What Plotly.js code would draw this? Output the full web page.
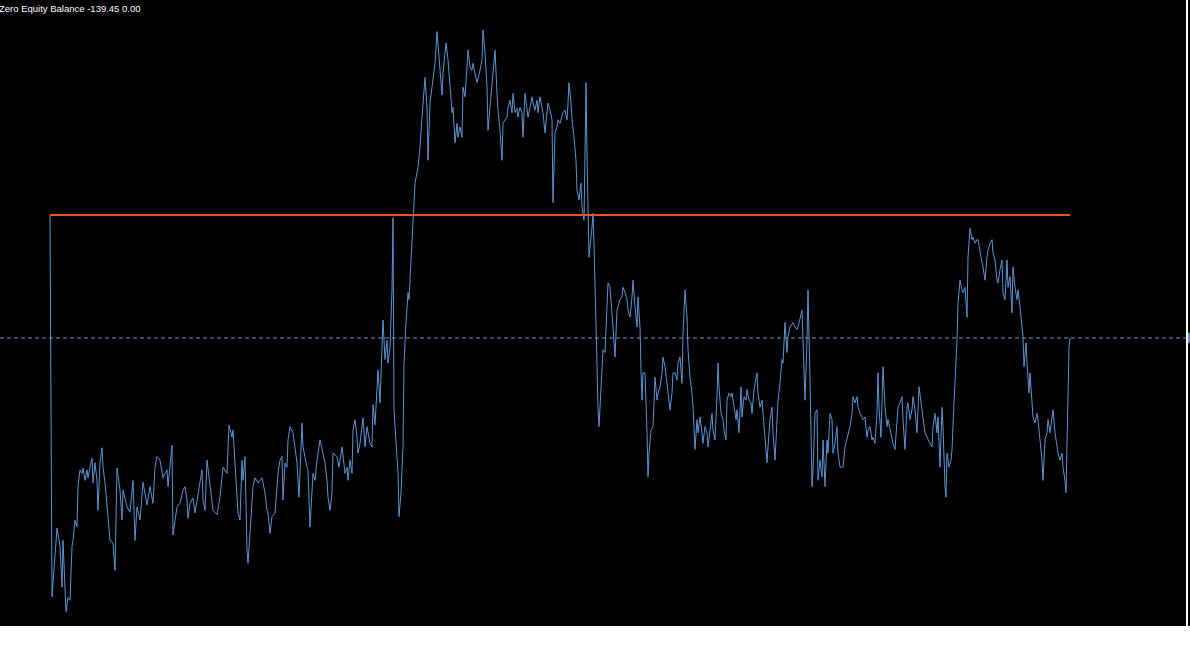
<!DOCTYPE html>
<html>
<head>
<meta charset="utf-8">
<script src="https://cdn.plot.ly/plotly-3.0.1.min.js"></script>
<style>
html,body{margin:0;padding:0;background:#ffffff;}
#chart{width:1190px;height:646px;}
</style>
</head>
<body>
<div id="chart"></div>
<script>
// Bar numbers (time index) and equity values
const bars = [
0,2,7,10,12,13,16,18,20,22,
23,25,27,28,30,32,33,35,37,38,
40,42,43,45,47,48,50,52,53,55,
58,60,63,65,67,70,72,73,77,80,
83,85,87,90,93,97,100,103,105,107,
110,113,117,118,122,123,127,130,133,135,
137,138,140,143,145,147,150,152,153,155,
157,160,163,167,170,173,177,179,182,183,
185,188,190,192,193,195,197,198,200,203,
205,208,212,215,217,218,220,222,225,228,
230,232,233,235,237,238,240,243,247,249,
252,253,257,258,260,263,265,267,270,272,
275,277,278,280,282,283,287,289,292,295,
297,298,300,302,303,305,307,308,310,313,
315,317,320,322,323,325,328,330,332,333,
335,337,338,340,342,343,344,346,348,349,
351,353,354,356,358,359,360,362,363,364,
365,368,370,372,373,375,377,378,380,382,
383,385,387,389,391,392,393,396,398,400,
402,403,405,407,408,410,412,413,415,417,
418,420,422,423,427,430,432,433,435,437,
438,440,443,445,447,448,450,452,453,455,
457,458,460,462,463,465,467,468,470,472,
473,475,477,478,480,482,483,485,487,488,
490,492,493,495,497,498,500,502,503,505,
507,508,510,512,513,515,517,518,519,521,
522,524,526,527,529,531,532,534,535,536,
537,538,539,542,543,544,545,547,548,549,
552,553,555,557,558,560,562,563,565,567,
568,570,572,573,575,577,578,580,582,583,
585,587,588,590,591,592,593,595,597,598,
599,601,603,605,607,608,610,612,613,615,
617,618,620,622,623,625,627,628,630,632,
633,635,637,638,640,642,643,645,647,648,
650,652,653,655,657,658,660,662,663,665,
667,668,669,671,673,674,676,677,679,681,
682,684,686,687,689,691,692,694,696,697,
699,701,702,704,707,708,710,712,713,715,
717,718,720,722,723,725,727,728,730,732,
733,735,737,738,740,743,745,747,748,750,
752,753,755,757,758,760,762,763,765,767,
768,770,772,773,775,777,778,780,782,783,
785,787,788,790,792,793,795,797,800,802,
803,805,807,808,810,812,813,815,817,818,
820,822,823,825,827,828,829,831,833,835,
837,838,840,842,843,845,847,848,850,852,
853,855,857,858,860,862,863,865,867,868,
869,872,873,875,877,878,880,882,883,885,
887,888,890,892,893,895,896,897,899,901,
902,904,906,907,908,910,912,913,915,916,
917,918,920,922,923,925,927,928,930,932,
933,935,937,938,940,942,943,945,947,948,
950,952,953,955,957,958,960,962,963,965,
967,968,970,972,973,974,976,977,979,980,
982,983,985,987,988,990,992,993,995,997,
998,1000,1002,1003,1005,1007,1008,1010,1012,1013,
1015,1016,1017,1019,1020
];

const equity = [
0,-433,-355,-376,-422,-369,-450,-434,-437,-376,
-369,-346,-354,-308,-289,-293,-287,-301,-289,-298,
-286,-276,-304,-281,-301,-335,-281,-264,-286,-304,
-342,-369,-372,-403,-287,-312,-346,-312,-331,-337,
-301,-369,-331,-346,-303,-329,-308,-327,-286,-274,
-278,-298,-289,-308,-261,-363,-331,-327,-312,-308,
-323,-344,-327,-321,-338,-323,-304,-289,-323,-335,
-278,-308,-335,-340,-320,-286,-293,-238,-252,-244,
-278,-338,-346,-278,-301,-274,-380,-395,-361,-308,
-298,-304,-298,-315,-335,-338,-361,-342,-338,-293,
-278,-274,-323,-281,-286,-255,-240,-247,-281,-320,
-236,-263,-286,-289,-354,-293,-301,-278,-255,-266,
-281,-301,-320,-335,-315,-270,-274,-286,-263,-293,
-286,-301,-278,-293,-244,-232,-252,-270,-259,-230,
-263,-240,-259,-263,-215,-238,-176,-213,-156,-119,
-164,-142,-168,-150,-85,-3,-221,-259,-293,-342,
-315,-263,-168,-122,-88,-96,-74,-17,-6,17,
36,54,77,111,127,156,122,62,127,145,
153,172,208,176,145,136,161,195,176,142,
116,122,82,104,88,100,88,145,134,168,
187,168,164,172,150,164,176,210,184,145,
96,122,161,187,138,119,96,62,104,108,
111,122,130,116,138,116,121,111,122,116,
88,138,119,111,122,134,127,119,130,116,
134,122,116,93,116,127,119,108,14,93,
100,108,104,111,116,119,108,127,150,127,
108,88,62,28,17,36,9,-6,111,150,
70,2,-48,-14,2,-32,-88,-179,-218,-240,
-172,-153,-156,-108,-77,-82,-108,-127,-161,-108,
-104,-96,-93,-82,-88,-96,-108,-116,-93,-74,
-104,-127,-93,-127,-176,-210,-179,-179,-247,-297,
-270,-244,-240,-184,-210,-202,-195,-179,-161,-172,
-191,-202,-221,-202,-179,-179,-187,-168,-161,-191,
-134,-85,-116,-153,-184,-202,-218,-266,-232,-247,
-229,-247,-259,-240,-247,-263,-244,-225,-244,-255,
-206,-168,-195,-225,-232,-244,-255,-210,-202,-206,
-202,-218,-232,-221,-247,-195,-229,-206,-210,-198,
-210,-213,-225,-198,-179,-202,-218,-210,-225,-255,
-281,-263,-232,-218,-247,-278,-240,-210,-191,-164,
-168,-122,-156,-138,-127,-122,-127,-130,-127,-119,
-108,-142,-210,-142,-85,-187,-308,-289,-225,-221,
-301,-278,-297,-255,-308,-255,-270,-225,-232,-270,
-259,-240,-270,-286,-286,-286,-263,-255,-240,-225,
-206,-213,-206,-218,-225,-229,-232,-229,-252,-244,
-240,-255,-252,-259,-225,-179,-218,-252,-172,-218,
-240,-232,-244,-252,-259,-266,-236,-218,-213,-206,
-232,-266,-218,-213,-232,-221,-206,-221,-247,-218,
-195,-221,-229,-247,-252,-255,-259,-263,-240,-225,
-247,-229,-286,-218,-240,-308,-320,-270,-286,-278,
-266,-213,-168,-142,-100,-74,-85,-88,-82,-96,
-116,-48,-15,-28,-25,-32,-28,-28,-43,-54,
-59,-74,-48,-40,-32,-28,-43,-51,-74,-77,
-62,-51,-88,-96,-51,-82,-70,-111,-59,-82,
-96,-85,-104,-130,-138,-172,-145,-168,-202,-179,
-206,-229,-236,-225,-232,-255,-278,-301,-255,-247,
-232,-247,-225,-221,-247,-263,-270,-278,-270,-286,
-301,-315,-270,-150,-139.45
];

const balanceBars = [0, 1020];
const balance = [0.00, 0.00];

const lastEquity = equity[equity.length - 1];
const lastBalance = balance[balance.length - 1];
const titleText = 'Zero Equity Balance ' + lastEquity.toFixed(2) + ' ' + lastBalance.toFixed(2);

const traces = [
  {
    x: bars, y: equity, type: 'scatter', mode: 'lines',
    line: {color: '#5b95d5', width: 1},
    hoverinfo: 'skip', showlegend: false
  },
  {
    x: balanceBars, y: balance, type: 'scatter', mode: 'lines',
    line: {color: '#f0502a', width: 2},
    hoverinfo: 'skip', showlegend: false
  }
];

const layout = {
  width: 1190, height: 646,
  margin: {l: 0, r: 4, t: 0, b: 20, pad: 0},
  paper_bgcolor: '#ffffff',
  plot_bgcolor: '#000000',
  showlegend: false,
  xaxis: {range: [-50, 1136], visible: false, showgrid: false, zeroline: false, fixedrange: true},
  yaxis: {range: [-466.1, 243.8], visible: false, showgrid: false, zeroline: false, fixedrange: true},
  shapes: [
    {type: 'line', xref: 'paper', yref: 'y', x0: 0, x1: 1, y0: lastEquity, y1: lastEquity,
     line: {color: '#7d95b8', width: 1, dash: '4px,3px'}, layer: 'below'},
    {type: 'rect', xref: 'paper', yref: 'paper', x0: 1188/1186, x1: 1190/1186, y0: 0, y1: 1,
     fillcolor: '#000000', line: {width: 0}},
    {type: 'rect', xref: 'paper', yref: 'y', x0: 1188/1186, x1: 1190/1186,
     y0: lastEquity - 6, y1: lastEquity + 6,
     fillcolor: '#5b8cc4', line: {width: 0}}
  ],
  annotations: [
    {text: titleText, xref: 'paper', yref: 'paper', x: 0, y: 1,
     xanchor: 'left', yanchor: 'top', xshift: -3, yshift: -1, showarrow: false,
     font: {family: 'Liberation Sans, Arial, sans-serif', size: 9.5, color: '#ffffff'}}
  ]
};

Plotly.newPlot('chart', traces, layout, {displayModeBar: false, staticPlot: true});
</script>
</body>
</html>
